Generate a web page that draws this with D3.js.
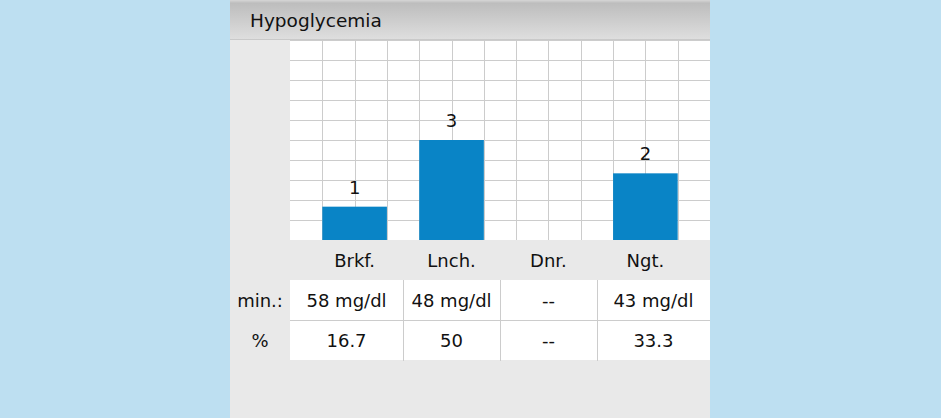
<!DOCTYPE html>
<html><head><meta charset="utf-8">
<script src="https://cdn.jsdelivr.net/npm/d3@7"></script>
<style>
html,body{margin:0;padding:0;background:#bddff1;}
svg{display:block;}
text{font-family:"DejaVu Sans",Verdana,sans-serif;}
</style></head>
<body>
<script>
const title = "Hypoglycemia";
const categories = ["Brkf.", "Lnch.", "Dnr.", "Ngt."];
const counts = [1, 3, 0, 2];
const minValues = ["58 mg/dl", "48 mg/dl", "--", "43 mg/dl"];
const percents = ["16.7", "50", "--", "33.3"];
const rowLabels = ["min.:", "%"];
const yMax = 6;

const W = 941, H = 418;
const FS = 18;
const svg = d3.select("body").append("svg").attr("width", W).attr("height", H);

const panel = {x: 230, w: 480};
svg.append("rect").attr("x", panel.x).attr("y", 0).attr("width", panel.w).attr("height", H).attr("fill", "#e9e9e9");

// header gradient
const defs = svg.append("defs");
const g = defs.append("linearGradient").attr("id", "hdr").attr("x1", 0).attr("y1", 0).attr("x2", 0).attr("y2", 1);
g.append("stop").attr("offset", "0%").attr("stop-color", "#d6d6d6");
g.append("stop").attr("offset", "8%").attr("stop-color", "#bdbdbd");
g.append("stop").attr("offset", "100%").attr("stop-color", "#dedede");
svg.append("rect").attr("x", panel.x).attr("y", 0).attr("width", panel.w).attr("height", 39).attr("fill", "url(#hdr)");
svg.append("line").attr("x1", panel.x).attr("x2", panel.x + panel.w).attr("y1", 39.5).attr("y2", 39.5).attr("stroke", "#c9c9c9");
svg.append("text").attr("x", 250).attr("y", 27).attr("font-size", 18.5).attr("fill", "#111").text(title);

// plot area
const plot = {x0: 290, x1: 710, y0: 40, y1: 240};
svg.append("rect").attr("x", plot.x0).attr("y", plot.y0).attr("width", plot.x1 - plot.x0).attr("height", plot.y1 - plot.y0).attr("fill", "#fff");

const colW = (plot.x1 - plot.x0) / 13;
const x = d3.scaleBand().domain(categories).range([plot.x0 + colW / 2, plot.x1 - colW / 2]).paddingInner(0).paddingOuter(0);
const y = d3.scaleLinear().domain([0, yMax]).range([plot.y1, plot.y0]);

// grid: horizontal
const hTicks = d3.range(0.6, yMax, 0.6);
svg.append("g").selectAll("line").data(hTicks).join("line")
  .attr("x1", plot.x0).attr("x2", plot.x1)
  .attr("y1", d => Math.round(y(d)) + 0.5).attr("y2", d => Math.round(y(d)) + 0.5)
  .attr("stroke", "#cccccc");
// grid: vertical (13 columns)
const xs = d3.scaleLinear().domain([0, 13]).range([plot.x0, plot.x1]);
svg.append("g").selectAll("line").data(d3.range(1, 13)).join("line")
  .attr("x1", d => Math.round(xs(d)) + 0.5).attr("x2", d => Math.round(xs(d)) + 0.5)
  .attr("y1", plot.y0).attr("y2", plot.y1)
  .attr("stroke", "#cccccc");

// bars
const barW = colW * 2;
const data = categories.map((c, i) => ({c, v: counts[i]}));
svg.append("g").selectAll("rect").data(data.filter(d => d.v > 0)).join("rect")
  .attr("x", d => x(d.c) + x.bandwidth() / 2 - barW / 2)
  .attr("width", barW)
  .attr("y", d => y(d.v))
  .attr("height", d => y(0) - y(d.v))
  .attr("fill", "#0984c6");
svg.append("g").selectAll("text").data(data.filter(d => d.v > 0)).join("text")
  .attr("x", d => x(d.c) + x.bandwidth() / 2)
  .attr("y", d => y(d.v) - 13)
  .attr("text-anchor", "middle").attr("font-size", FS).attr("fill", "#111")
  .text(d => d.v);

// category labels
svg.append("g").selectAll("text").data(categories).join("text")
  .attr("x", d => x(d) + x.bandwidth() / 2)
  .attr("y", 267)
  .attr("text-anchor", "middle").attr("font-size", FS).attr("fill", "#111")
  .text(d => d);

// table
const bounds = categories.map((c, i) => [i === 0 ? plot.x0 : x(c), i === categories.length - 1 ? plot.x1 : x(c) + x.bandwidth()]);
const rows = [minValues, percents];
const rowY = [280, 320];
svg.append("rect").attr("x", plot.x0).attr("y", 280).attr("width", plot.x1 - plot.x0).attr("height", 80).attr("fill", "#fff");
svg.append("line").attr("x1", plot.x0).attr("x2", plot.x1).attr("y1", 320.5).attr("y2", 320.5).attr("stroke", "#cccccc");
svg.append("g").selectAll("line").data(bounds.slice(1)).join("line")
  .attr("x1", d => Math.round(d[0]) + 0.5).attr("x2", d => Math.round(d[0]) + 0.5)
  .attr("y1", 280).attr("y2", 361).attr("stroke", "#cccccc");
rows.forEach((r, ri) => {
  svg.append("text").attr("x", 260).attr("y", rowY[ri] + 27).attr("text-anchor", "middle")
    .attr("font-size", FS).attr("fill", "#111").text(rowLabels[ri]);
  svg.append("g").selectAll("text").data(r).join("text")
    .attr("x", (d, i) => (bounds[i][0] + bounds[i][1]) / 2)
    .attr("y", rowY[ri] + 27)
    .attr("text-anchor", "middle").attr("font-size", FS).attr("fill", "#111")
    .text(d => d);
});
</script>
</body></html>
